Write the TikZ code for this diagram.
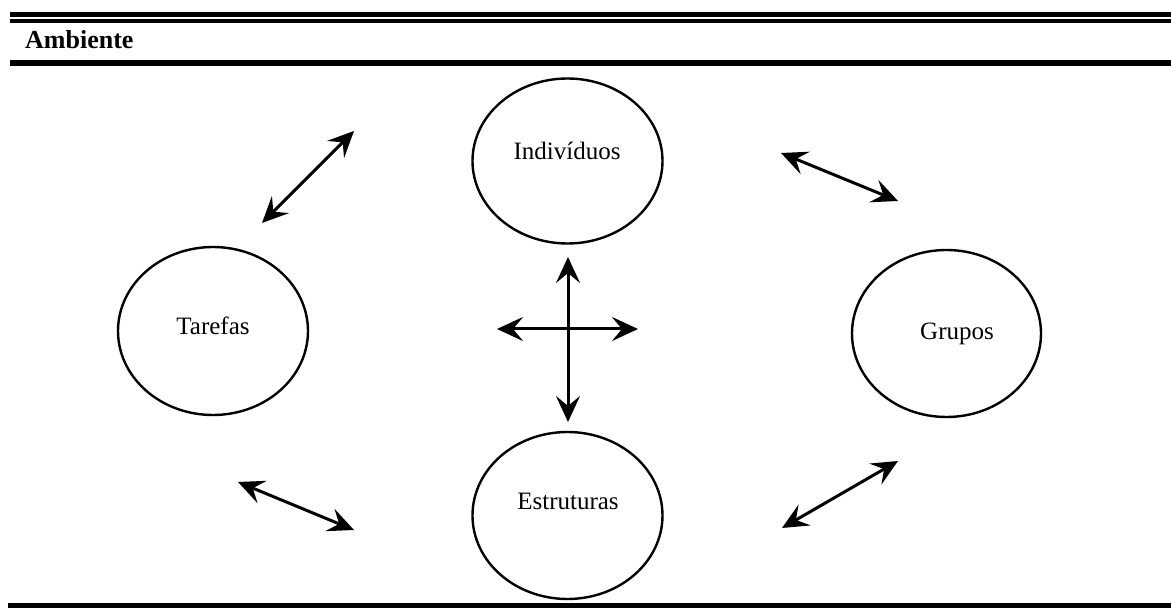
\documentclass[tikz,border=0pt]{standalone}
\usepackage{fontspec}
\setmainfont{Liberation Serif}
\usetikzlibrary{shapes.geometric,arrows.meta}
\begin{document}
\begin{tikzpicture}[x=1pt,y=-1pt,
  circ/.style={ellipse,draw,line width=2.4pt,minimum width=190pt,minimum height=166pt,inner sep=0pt},
  lbl/.style={anchor=base,inner sep=0pt,font=\fontsize{25}{29}\selectfont},
  dblarrow/.style={line width=3pt,{Stealth[length=26pt,width=24pt,inset=10pt]}-{Stealth[length=26pt,width=24pt,inset=10pt]}},
  hrule/.style={line width=#1}]
\useasboundingbox (0,0) rectangle (1171,609);
% header rules
\coordinate (r1a) at (10,14.75);  \coordinate (r1b) at (1171,14.75);
\coordinate (r2a) at (10,21.25);  \coordinate (r2b) at (1171,21.25);
\coordinate (r3a) at (10,63);     \coordinate (r3b) at (1171,63);
\coordinate (r4a) at (8,605.5);   \coordinate (r4b) at (1171,605.5);
\draw[hrule=4.5pt] (r1a) -- (r1b);
\draw[hrule=4.5pt] (r2a) -- (r2b);
\draw[hrule=6pt] (r3a) -- (r3b);
\draw[hrule=5pt] (r4a) -- (r4b);
\node[anchor=base west,inner sep=0pt,font=\bfseries\fontsize{26}{30}\selectfont] (amb) at (25,49) {Ambiente};
% ellipses
\node[circ,minimum height=165pt] (ind) at (567.5,161) {};
\node[circ,minimum height=167pt] (est) at (567.5,515.5) {};
\node[circ,minimum height=168pt] (tar) at (213,331) {};
\node[circ,minimum width=189pt,minimum height=167pt] (gru) at (946.5,333.5) {};
% labels
\node[lbl] (tind) at (567,160) {Indivíduos};
\node[lbl] (ttar) at (213,335) {Tarefas};
\node[lbl] (tgru) at (957,340) {Grupos};
\node[lbl] (test) at (568,510) {Estruturas};
% arrows
\coordinate (a1) at (262,223); \coordinate (a2) at (354,131);
\coordinate (b1) at (781,153); \coordinate (b2) at (898,201);
\coordinate (c1) at (238,482); \coordinate (c2) at (354,530);
\coordinate (d1) at (782,528); \coordinate (d2) at (898,461);
\coordinate (v1) at (568,257); \coordinate (v2) at (568,422);
\coordinate (h1) at (497,329); \coordinate (h2) at (638,329);
\draw[dblarrow] (a1) -- (a2);
\draw[dblarrow] (b1) -- (b2);
\draw[dblarrow] (c1) -- (c2);
\draw[dblarrow] (d1) -- (d2);
\draw[dblarrow] (v1) -- (v2);
\draw[dblarrow] (h1) -- (h2);
\end{tikzpicture}
\end{document}
